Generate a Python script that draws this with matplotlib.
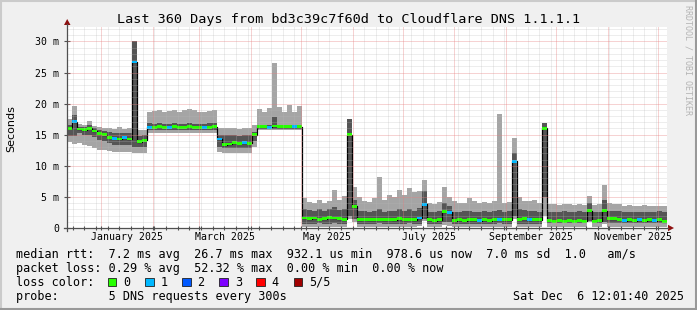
import datetime as dt

import numpy as np
import matplotlib
matplotlib.use("Agg")
from matplotlib import pyplot as plt
from matplotlib import dates as mdates
from matplotlib.lines import Line2D
from matplotlib.patches import Polygon, Rectangle

W, H = 697, 310
MONO = 'DejaVu Sans Mono'

END = dt.datetime(2025, 12, 6, 12, 1, 40)
SPAN_DAYS = 360
STEP_DAYS = 3

# smoke bands per 3 day step, in ms
smoke_lo = [13.9, 13.5, 13.6, 13.3, 13.2, 12.8, 12.6, 12.5, 12.4, 12.3,
            12.2, 12.3, 12.2, 12.0, 12.0, 12.0, 15.2, 15.3, 15.3, 15.2,
            15.3, 15.3, 15.2, 15.3, 15.3, 15.2, 15.3, 15.3, 15.2, 15.3,
            12.2, 12.0, 12.0, 12.1, 12.0, 12.0, 12.0, 13.0, 15.7, 15.7,
            15.7, 15.7, 15.7, 15.7, 15.7, 15.7, 15.7, 0.2, 0.2, 0.2,
            0.2, 0.2, 0.2, 0.2, 0.2, 0.2, 1.5, 1.0, 0.2, 0.2,
            0.2, 0.2, 0.2, 0.2, 0.2, 0.2, 0.2, 0.2, 0.2, 0.2,
            0.3, 1.2, 0.2, 0.2, 0.2, 0.5, 0.4, 0.2, 0.2, 0.2,
            0.2, 0.2, 0.2, 0.2, 0.2, 0.2, 0.2, 0.2, 0.2, 1.5,
            0.2, 0.2, 0.2, 0.2, 0.2, 2.0, 0.2, 0.2, 0.2, 0.2,
            0.2, 0.2, 0.2, 0.2, 1.0, 0.2, 0.2, 0.6, 0.2, 0.2,
            0.2, 0.2, 0.2, 0.2, 0.2, 0.2, 0.2, 0.2, 0.2, 0.2]
smoke_dlo = [14.8, 14.8, 15.2, 15.0, 14.9, 14.6, 14.2, 14.0, 13.6, 13.4,
             13.3, 13.4, 13.3, 13.0, 13.1, 13.0, 15.8, 15.8, 15.8, 15.8,
             15.8, 15.8, 15.8, 15.8, 15.8, 15.8, 15.8, 15.8, 15.8, 15.8,
             13.0, 12.8, 12.8, 12.9, 12.8, 12.8, 12.9, 14.0, 15.9, 15.9,
             15.9, 15.9, 15.9, 15.9, 15.9, 15.9, 15.9, 0.7, 0.7, 0.7,
             0.8, 0.7, 0.7, 0.8, 0.7, 0.7, 2.0, 1.5, 0.7, 0.7,
             0.7, 0.7, 0.8, 0.7, 0.7, 0.7, 0.7, 0.7, 0.8, 0.7,
             0.7, 1.5, 0.7, 0.7, 0.7, 1.0, 0.9, 0.7, 0.7, 0.7,
             0.7, 0.7, 0.7, 0.7, 0.7, 0.7, 0.8, 0.7, 0.7, 2.0,
             0.7, 0.7, 0.7, 0.7, 0.7, 5.0, 0.8, 0.8, 0.8, 0.8,
             0.8, 0.8, 0.8, 0.8, 1.2, 0.8, 0.8, 1.0, 0.8, 0.8,
             0.8, 0.8, 0.8, 0.8, 0.8, 0.8, 0.8, 0.8, 0.8, 0.8]
median = [16.0, 17.1, 15.9, 15.8, 16.0, 15.6, 15.2, 15.0, 14.6, 14.4,
          14.3, 14.5, 14.3, 26.7, 13.9, 14.1, 16.2, 16.2, 16.3, 16.2,
          16.2, 16.3, 16.2, 16.2, 16.3, 16.2, 16.2, 16.2, 16.2, 16.3,
          14.3, 13.4, 13.5, 13.7, 13.6, 13.7, 13.6, 15.0, 16.3, 16.3,
          16.2, 16.4, 16.3, 16.3, 16.3, 16.3, 16.3, 1.6, 1.5, 1.6,
          1.4, 1.5, 1.7, 1.6, 1.5, 1.4, 15.0, 3.5, 1.3, 1.4,
          1.3, 1.3, 1.4, 1.3, 1.4, 1.3, 1.5, 1.3, 1.4, 1.3,
          1.6, 3.8, 1.3, 1.2, 1.3, 2.6, 2.5, 1.2, 1.3, 1.2,
          1.3, 1.3, 1.2, 1.3, 1.2, 1.3, 1.4, 1.3, 1.3, 10.7,
          1.4, 1.5, 1.3, 1.4, 1.3, 16.0, 1.2, 1.1, 1.2, 1.1,
          1.2, 1.1, 1.2, 1.1, 2.8, 1.1, 1.2, 2.8, 1.5, 1.5,
          1.4, 1.2, 1.3, 1.2, 1.3, 1.2, 1.3, 1.2, 1.3, 1.0]
smoke_dhi = [16.6, 18.2, 16.3, 16.2, 16.5, 16.0, 15.7, 15.6, 15.4, 15.2,
             15.2, 15.3, 15.2, 30.0, 14.8, 14.9, 16.9, 16.8, 16.9, 16.8,
             16.8, 16.9, 16.8, 16.8, 16.9, 16.8, 16.8, 16.8, 16.9, 16.9,
             15.0, 14.9, 14.9, 14.9, 14.8, 14.9, 14.9, 15.5, 16.6, 16.5,
             16.6, 17.8, 16.6, 16.5, 16.6, 16.5, 16.6, 3.0, 2.9, 2.8,
             3.0, 2.8, 3.1, 3.4, 2.9, 3.0, 17.6, 4.5, 2.8, 2.7,
             2.6, 2.7, 3.0, 2.6, 2.8, 2.7, 3.0, 2.7, 3.1, 2.8,
             3.2, 6.0, 2.6, 2.6, 2.7, 4.0, 3.5, 2.6, 2.6, 2.7,
             2.8, 2.6, 2.6, 2.7, 2.6, 2.7, 2.9, 2.6, 2.7, 12.1,
             3.0, 2.9, 2.7, 2.8, 2.6, 16.9, 2.6, 2.6, 2.6, 2.7,
             2.6, 2.6, 2.7, 2.6, 4.0, 2.6, 2.6, 4.5, 2.8, 2.7,
             2.7, 2.6, 2.6, 2.6, 2.6, 2.6, 2.6, 2.6, 2.7, 2.6]
smoke_hi = [17.5, 19.6, 16.7, 16.6, 17.2, 16.4, 16.2, 16.0, 16.0, 15.9,
            16.3, 15.9, 16.0, 30.0, 15.8, 15.8, 18.7, 18.8, 19.0, 18.7,
            18.8, 18.9, 18.7, 18.9, 19.1, 19.0, 18.7, 18.6, 18.8, 19.0,
            16.1, 16.0, 16.0, 16.1, 15.9, 16.0, 16.0, 16.5, 19.2, 18.7,
            19.3, 26.5, 19.5, 18.6, 19.8, 18.7, 19.6, 4.8, 4.2, 4.0,
            4.5, 4.0, 4.4, 6.1, 4.5, 5.2, 17.6, 6.6, 5.0, 4.3,
            4.2, 4.8, 8.2, 4.5, 5.3, 5.0, 6.1, 5.3, 6.4, 5.8,
            6.0, 7.7, 4.0, 3.9, 4.2, 6.6, 5.0, 4.3, 4.0, 4.1,
            4.8, 4.3, 4.0, 4.2, 4.0, 4.3, 18.3, 4.1, 4.2, 14.5,
            5.0, 4.4, 4.3, 4.5, 4.0, 16.9, 3.8, 3.8, 3.7, 3.9,
            3.8, 3.7, 3.8, 3.7, 5.2, 3.7, 3.8, 6.9, 4.0, 3.9,
            3.8, 3.6, 3.7, 3.6, 3.6, 3.7, 3.6, 3.6, 3.6, 3.6]
# lost pings out of 5 per step
loss = [0, 1, 0, 0, 0, 0, 0, 0, 0, 1,
        0, 1, 0, 1, 0, 0, 1, 0, 0, 0,
        1, 0, 0, 0, 0, 0, 0, 1, 0, 0,
        1, 0, 0, 0, 0, 1, 0, 0, 0, 0,
        1, 0, 0, 0, 0, 1, 0, 0, 0, 0,
        0, 0, 0, 0, 0, 0, 0, 0, 0, 0,
        0, 0, 0, 0, 0, 0, 0, 0, 0, 0,
        1, 1, 0, 0, 0, 0, 1, 0, 0, 0,
        0, 0, 1, 0, 0, 0, 1, 0, 0, 1,
        0, 0, 1, 0, 0, 0, 0, 0, 0, 0,
        0, 0, 0, 0, 0, 0, 0, 0, 0, 0,
        0, 1, 0, 0, 1, 0, 0, 1, 0, 0]

loss_labels = ['0', '1', '2', '3', '4', '5/5']
loss_colors = ['#26ff00', '#00b8ff', '#0059ff', '#7e00ff', '#ff0000', '#a10000']
month_labels = ['January 2025', 'March 2025', 'May 2025', 'July 2025',
                'September 2025', 'November 2025']
legend_lines = [
    'median rtt:  7.2 ms avg  26.7 ms max  932.1 us min  978.6 us now  7.0 ms sd  1.0   am/s',
    'packet loss: 0.29 % avg  52.32 % max  0.00 % min  0.00 % now',
]


def fx(x):
    return x / W


def fy(y):
    return 1 - y / H


start = END - dt.timedelta(days=SPAN_DAYS)
x0 = mdates.date2num(start)
xs = x0 + np.arange(len(median)) * STEP_DAYS
xe = np.append(xs, xs[-1] + STEP_DAYS)


def ext(a):
    a = np.asarray(a, dtype=float)
    return np.append(a, a[-1])


fig = plt.figure(figsize=(W / 100, H / 100), dpi=100, facecolor='#f0f0f0')
ax = fig.add_axes([fx(67), fy(228), fx(600), (228 - 26.5) / H])
ax.set_xlim(x0, x0 + SPAN_DAYS)
ax.set_ylim(0, 32.4)
ax.set_facecolor('white')
for s in ax.spines.values():
    s.set_visible(False)

# smoke
ax.fill_between(xe, ext(smoke_lo), ext(smoke_hi), step='post', color='#a5a5a5', lw=0, zorder=2)
ax.fill_between(xe, ext(smoke_dlo), ext(smoke_dhi), step='post', color='#555555', lw=0, zorder=3)
ax.step(xe, ext(median), where='post', color='black', lw=0.9, zorder=4)
ax.bar(xs, 0.45, bottom=np.asarray(median) - 0.22, width=STEP_DAYS, align='edge',
       color=[loss_colors[l] for l in loss], lw=0, zorder=5)

# grid on top, like rrdtool
month_starts = [dt.datetime(2025, m, 1) for m in range(1, 13)]
sundays = []
d = dt.datetime(2024, 12, 15)
while d < END:
    if d.day != 1:
        sundays.append(d)
    d += dt.timedelta(days=7)
minor_c = (0.72, 0.72, 0.72, 0.5)
major_c = (0.9, 0.5, 0.5, 0.7)
dots = (0, (1, 1))
for d in sundays:
    ax.axvline(mdates.date2num(d), color=minor_c, lw=0.72, ls=dots, zorder=6)
for d in month_starts:
    ax.axvline(mdates.date2num(d), color=major_c, lw=0.72, ls=dots, zorder=7)
for v in range(1, 33):
    if v % 5:
        ax.axhline(v, color=minor_c, lw=0.72, ls=dots, zorder=6)
for v in range(5, 31, 5):
    ax.axhline(v, color=major_c, lw=0.72, ls=dots, zorder=7)

# ticks and labels
ax.set_xticks([])
ax.set_yticks(range(0, 31, 5), ['0'] + ['%d m' % v for v in range(5, 31, 5)])
ax.tick_params(axis='y', direction='inout', length=4, width=0.8, color='#505050',
               pad=3.5, labelsize=7.1)
for lab in ax.get_yticklabels():
    lab.set_family(MONO)
for i, name in enumerate(month_labels):
    m0 = dt.datetime(2025, 1 + 2 * i, 1)
    m1 = dt.datetime(2025, 2 + 2 * i, 1)
    mid = (mdates.date2num(m0) + mdates.date2num(m1)) / 2
    ax.text(mid, -9.3 / 6.22, name, ha='center', va='center', family=MONO,
            fontsize=7.1, clip_on=False)
ax.vlines([mdates.date2num(d) for d in month_starts], -0.4, 0.4, color='#505050',
          lw=0.8, clip_on=False, zorder=8)
ax.vlines([mdates.date2num(d) for d in sundays], -0.25, 0.25, color='#505050',
          lw=0.8, clip_on=False, zorder=8)

# axes with arrows
axis_c = '#505050'
arrow_c = '#8e1010'
fig.add_artist(Line2D([fx(67), fx(67)], [fy(231), fy(24)], color=axis_c, lw=0.9))
fig.add_artist(Line2D([fx(64), fx(668)], [fy(228), fy(228)], color=axis_c, lw=0.9))
fig.add_artist(Polygon([(fx(64), fy(25)), (fx(70.5), fy(25)), (fx(67.2), fy(19))],
                       closed=True, color=arrow_c, lw=0))
fig.add_artist(Polygon([(fx(668), fy(224.8)), (fx(668), fy(231.2)), (fx(674), fy(228))],
                       closed=True, color=arrow_c, lw=0))

# texts
fig.text(fx(349), fy(19.3), 'Last 360 Days from bd3c39c7f60d to Cloudflare DNS 1.1.1.1',
         ha='center', va='center', family=MONO, fontsize=9.7)
fig.text(fx(11), fy(128.5), 'Seconds', rotation=90, ha='center', va='center',
         family='DejaVu Sans', fontsize=8)
fig.text(fx(688), fy(5), 'RRDTOOL / TOBI OETIKER', rotation=270, ha='center', va='top',
         family=MONO, fontsize=6, color='#b4b4b4')

fig.text(fx(15.6), fy(254.3), legend_lines[0], va='center', family=MONO, fontsize=8.5)
fig.text(fx(15.6), fy(268.3), legend_lines[1], va='center', family=MONO, fontsize=8.5)
fig.text(fx(15.6), fy(282.3), 'loss color:', va='center', family=MONO, fontsize=8.5)
for k, (name, col) in enumerate(zip(loss_labels, loss_colors)):
    bx = 108 + k * 37.1
    fig.add_artist(Rectangle((fx(bx), fy(285.8)), 8.4 / W, 7.4 / H, facecolor=col,
                             edgecolor='#202020', lw=0.6))
    fig.text(fx(bx + 15.4), fy(282.3), name, va='center', family=MONO, fontsize=8.5)
fig.text(fx(15.6), fy(296.3), 'probe:       5 DNS requests every 300s', va='center',
         family=MONO, fontsize=8.5)
fig.text(fx(513.3), fy(296.3), END.strftime('%a %b ') + '%2d' % END.day + END.strftime(' %H:%M:%S %Y'),
         va='center', family=MONO, fontsize=8.5)

# frame shading
fig.add_artist(Line2D([0, 1], [fy(0.5), fy(0.5)], color='#cbcbcb', lw=1.5))
fig.add_artist(Line2D([fx(0.5), fx(0.5)], [0, 1], color='#cbcbcb', lw=1.5))
fig.add_artist(Line2D([0, 1], [fy(309.3), fy(309.3)], color='#999999', lw=1.5))
fig.add_artist(Line2D([fx(696.3), fx(696.3)], [0, 1], color='#999999', lw=1.5))

fig.savefig('out.png', dpi=100, facecolor=fig.get_facecolor())
